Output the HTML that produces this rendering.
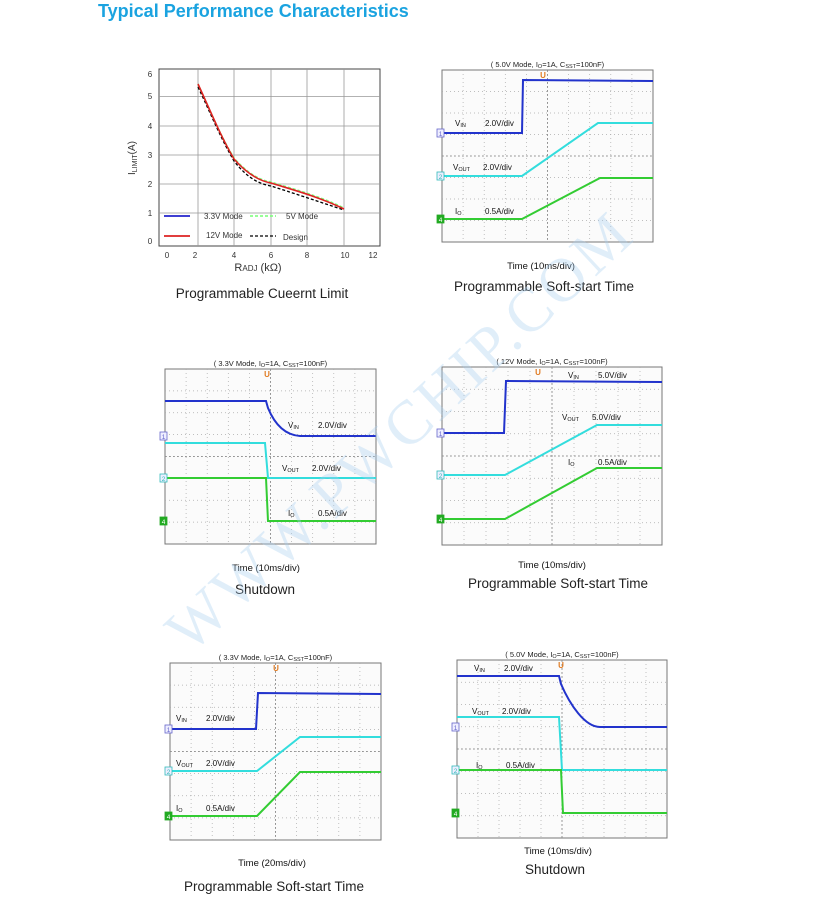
<!DOCTYPE html>
<html><head><meta charset="utf-8"><style>
body{margin:0;background:#fff;width:827px;height:897px;overflow:hidden;font-family:"Liberation Sans",sans-serif}
svg{position:absolute;left:0;top:0}
</style></head><body>
<svg id="s" width="827" height="897" xmlns="http://www.w3.org/2000/svg" font-family="Liberation Sans, sans-serif">
<text x="98" y="17" font-size="18" font-weight="bold" fill="#1aa3e0">Typical Performance Characteristics</text>
<g id="c1">
<rect x="159" y="69" width="221" height="177" fill="#fff" stroke="#444" stroke-width="1"/>
<g stroke="#999" stroke-width="0.8">
<line x1="198" y1="69" x2="198" y2="246"/><line x1="234" y1="69" x2="234" y2="246"/><line x1="271" y1="69" x2="271" y2="246"/><line x1="307" y1="69" x2="307" y2="246"/><line x1="344" y1="69" x2="344" y2="246"/>
<line x1="159" y1="96.5" x2="380" y2="96.5"/><line x1="159" y1="126" x2="380" y2="126"/><line x1="159" y1="155" x2="380" y2="155"/><line x1="159" y1="184" x2="380" y2="184"/><line x1="159" y1="213" x2="380" y2="213"/>
</g>
<g font-size="8" fill="#333" text-anchor="middle">
<text x="167" y="258">0</text><text x="195" y="258">2</text><text x="234" y="258">4</text><text x="271" y="258">6</text><text x="307" y="258">8</text><text x="345" y="258">10</text><text x="373" y="258">12</text>
<text x="150" y="77">6</text><text x="150" y="99">5</text><text x="150" y="129">4</text><text x="150" y="158">3</text><text x="150" y="187">2</text><text x="150" y="216">1</text><text x="150" y="244">0</text>
</g>
<text x="258" y="271" font-size="11" fill="#333" text-anchor="middle">R<tspan font-size="8">ADJ</tspan> (kΩ)</text>
<text transform="translate(135,158) rotate(-90)" font-size="10" fill="#333" text-anchor="middle">I<tspan font-size="7" dy="2">LIMIT</tspan><tspan dy="-2">(A)</tspan></text>
<path d="M198 85 C210 110 220 135 234 159 C248 177 260 182 271 184 C290 190 320 200 344 208" fill="none" stroke="#000" stroke-width="1.3" stroke-dasharray="3,2" transform="translate(0,2)"/>
<path d="M198 84 C210 110 220 135 234 158 C248 174 260 180 271 182 C290 188 320 196 344 208" fill="none" stroke="#7f7" stroke-width="1.5" stroke-dasharray="3,2"/>
<path d="M198 84 C210 110 220 135 234 159 C248 175 260 181 271 183 C290 189 320 197 344 209" fill="none" stroke="#d22" stroke-width="1.6"/>
<line x1="164" y1="216" x2="190" y2="216" stroke="#22c" stroke-width="1.8"/>
<text x="204" y="219" font-size="8" fill="#333">3.3V Mode</text>
<line x1="250" y1="216" x2="276" y2="216" stroke="#7f7" stroke-width="1.5" stroke-dasharray="3,2"/>
<text x="286" y="219" font-size="8" fill="#333">5V  Mode</text>
<line x1="164" y1="236" x2="190" y2="236" stroke="#d22" stroke-width="1.8"/>
<text x="206" y="238" font-size="8" fill="#333">12V Mode</text>
<line x1="250" y1="236" x2="276" y2="236" stroke="#000" stroke-width="1.3" stroke-dasharray="3,2"/>
<text x="283" y="240" font-size="8" fill="#333">Design</text>
</g>
<g font-size="13.5" fill="#222" text-anchor="middle" font-family="Liberation Sans, Noto Sans CJK SC, sans-serif">
<text x="262" y="298">Programmable Cueernt Limit</text>
<text x="544" y="291">Programmable Soft-start Time</text>
<text x="265" y="594">Shutdown</text>
<text x="558" y="588">Programmable Soft-start Time</text>
<text x="274" y="891">Programmable Soft-start Time</text>
<text x="555" y="874">Shutdown</text>
</g>
<g id="scopes"></g>
<text transform="translate(190,655) rotate(-43)" font-family="Liberation Serif, serif" font-size="62" fill="#a8cff0" opacity="0.35" letter-spacing="3">WWW.PWCHIP.COM</text>
</svg>
<script>
const S=document.getElementById('scopes');let h='';
function scope(x,y,w,hh,title,time,tl,waves,labels,mk,chs){
 h+=`<rect x="${x}" y="${y}" width="${w}" height="${hh}" fill="#fbfbfb" stroke="#777" stroke-width="1"/>`;
 for(let i=1;i<10;i++){let gx=x+w*i/10;h+=`<line x1="${gx}" y1="${y}" x2="${gx}" y2="${y+hh}" stroke="#aaa" stroke-width="0.7" stroke-dasharray="1,3"/>`;}
 for(let i=1;i<8;i++){let gy=y+hh*i/8;h+=`<line x1="${x}" y1="${gy}" x2="${x+w}" y2="${gy}" stroke="#aaa" stroke-width="0.7" stroke-dasharray="1,3"/>`;}
 h+=`<line x1="${x}" y1="${y+hh/2}" x2="${x+w}" y2="${y+hh/2}" stroke="#888" stroke-width="0.8" stroke-dasharray="2,2"/>`;
 h+=`<line x1="${x+w/2}" y1="${y}" x2="${x+w/2}" y2="${y+hh}" stroke="#888" stroke-width="0.8" stroke-dasharray="2,2"/>`;
 h+=`<text x="${x+w/2}" y="${y-3}" font-size="7.5" fill="#222" text-anchor="middle">${title}</text>`;
 h+=`<text x="${mk}" y="${y+8}" font-size="8" fill="#e07a20" text-anchor="middle" font-weight="bold">U</text>`;
 h+=`<text x="${tl[0]}" y="${tl[1]}" font-size="9.5" fill="#111" text-anchor="middle">Time (${time})</text>`;
 for(const [d,c] of waves)h+=`<path d="${d}" fill="none" stroke="${c}" stroke-width="2"/>`;
 for(const [lx,ly,n,sub,v] of labels)h+=`<text x="${lx}" y="${ly}" font-size="8" fill="#111">${n}<tspan font-size="5.5" dy="1">${sub}</tspan><tspan dy="-1" x="${lx+30}">${v}</tspan></text>`;
 for(const [cy,n,c] of chs)h+=`<rect x="${x-5}" y="${cy-4}" width="7" height="8" fill="${c==='#2a2'?'#2a2':'#eef'}" stroke="${c}" stroke-width="0.8"/><text x="${x-1.5}" y="${cy+3}" font-size="6.5" fill="${c==='#2a2'?'#fff':c}" text-anchor="middle">${n}</text>`;
}
const B='#2233cc',C='#33dddd',G='#33cc33';
scope(442,70,211,172,'( 5.0V Mode, I<tspan font-size="5.5" dy="1">O</tspan><tspan dy="-1">=1A, C</tspan><tspan font-size="5.5" dy="1">SST</tspan><tspan dy="-1">=100nF)</tspan>','10ms/div',[541,269],
 [[`M442 133 L522 133 L523 80 L653 81`,B],[`M442 176 L522 176 L598 123 L653 123`,C],[`M442 219 L522 219 L600 178 L653 178`,G]],
 [[455,126,'V','IN','2.0V/div'],[453,170,'V','OUT','2.0V/div'],[455,214,'I','O','0.5A/div']],543,[[133,'1','#66c'],[176,'2','#3bb'],[219,'4','#2a2']]);
scope(165,369,211,175,'( 3.3V Mode, I<tspan font-size="5.5" dy="1">O</tspan><tspan dy="-1">=1A, C</tspan><tspan font-size="5.5" dy="1">SST</tspan><tspan dy="-1">=100nF)</tspan>','10ms/div',[266,571],
 [[`M165 401 L266 401 L268 408 C275 425 285 435 300 436 L376 436`,B],[`M165 443 L265 443 L268 478 L376 478`,C],[`M165 478 L266 478 L268 521 L376 521`,G]],
 [[288,428,'V','IN','2.0V/div'],[282,471,'V','OUT','2.0V/div'],[288,516,'I','O','0.5A/div']],267,[[436,'1','#66c'],[478,'2','#3bb'],[521,'4','#2a2']]);
scope(442,367,220,178,'( 12V Mode, I<tspan font-size="5.5" dy="1">O</tspan><tspan dy="-1">=1A, C</tspan><tspan font-size="5.5" dy="1">SST</tspan><tspan dy="-1">=100nF)</tspan>','10ms/div',[552,568],
 [[`M442 433 L504 433 L506 381 L662 382`,B],[`M442 475 L505 475 L597 425 L662 425`,C],[`M442 519 L505 519 L597 468 L662 468`,G]],
 [[568,378,'V','IN','5.0V/div'],[562,420,'V','OUT','5.0V/div'],[568,465,'I','O','0.5A/div']],538,[[433,'1','#66c'],[475,'2','#3bb'],[519,'4','#2a2']]);
scope(170,663,211,177,'( 3.3V Mode, I<tspan font-size="5.5" dy="1">O</tspan><tspan dy="-1">=1A, C</tspan><tspan font-size="5.5" dy="1">SST</tspan><tspan dy="-1">=100nF)</tspan>','20ms/div',[272,866],
 [[`M170 729 L256 729 L258 693 L381 694`,B],[`M170 771 L257 771 L300 737 L381 737`,C],[`M170 816 L257 816 L300 772 L381 772`,G]],
 [[176,721,'V','IN','2.0V/div'],[176,766,'V','OUT','2.0V/div'],[176,811,'I','O','0.5A/div']],276,[[729,'1','#66c'],[771,'2','#3bb'],[816,'4','#2a2']]);
scope(457,660,210,178,'( 5.0V Mode, I<tspan font-size="5.5" dy="1">O</tspan><tspan dy="-1">=1A, C</tspan><tspan font-size="5.5" dy="1">SST</tspan><tspan dy="-1">=100nF)</tspan>','10ms/div',[558,854],
 [[`M457 676 L559 676 L561 684 C570 705 585 727 600 727 L667 727`,B],[`M457 717 L559 717 L562 770 L667 770`,C],[`M457 770 L561 770 L563 813 L667 813`,G]],
 [[474,671,'V','IN','2.0V/div'],[472,714,'V','OUT','2.0V/div'],[476,768,'I','O','0.5A/div']],561,[[727,'1','#66c'],[770,'2','#3bb'],[813,'4','#2a2']]);
S.innerHTML=h;
</script>
</body></html>
